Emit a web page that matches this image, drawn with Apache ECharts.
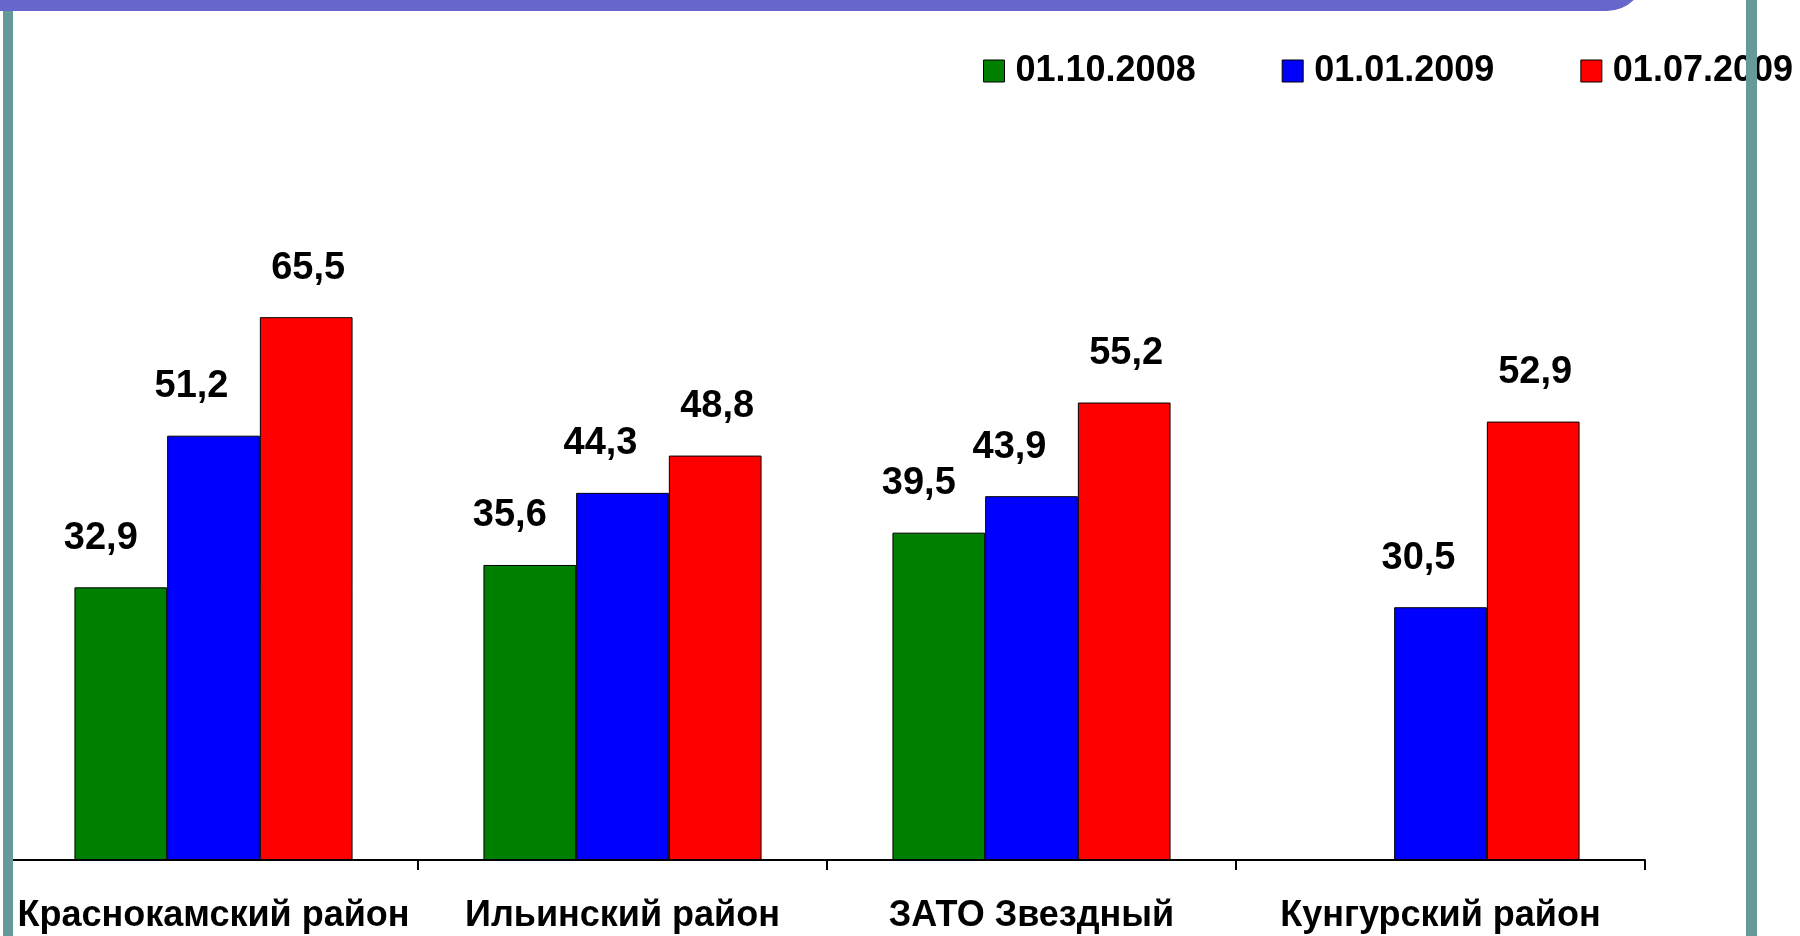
<!DOCTYPE html>
<html>
<head>
<meta charset="utf-8">
<title>chart</title>
<script src="https://cdn.jsdelivr.net/npm/echarts@6/dist/echarts.min.js"></script>
<style>
  html, body { margin: 0; padding: 0; background: #fff; }
  #chart { width: 1800px; height: 936px; }
</style>
</head>
<body>
<div id="chart"></div>
<script>
// данные
const categories = ['Краснокамский район', 'Ильинский район', 'ЗАТО Звездный', 'Кунгурский район']
const seriesNames = ['01.10.2008', '01.01.2009', '01.07.2009']
const values2008_10 = [32.9, 35.6, 39.5, null]
const values2009_01 = [51.2, 44.3, 43.9, 30.5]
const values2009_07 = [65.5, 48.8, 55.2, 52.9]

const colors = ['#008000', '#0000FF', '#FF0000']
const labelShift = [-20, -22, 2] // сдвиг подписей как на слайде
const font = '"Liberation Sans", Arial, sans-serif'

const myEchart = echarts.init(document.getElementById('chart'))

const makeSeries = (name, data, i) => ({
  name: name,
  type: 'bar',
  data: data,
  barGap: '0%',
  barCategoryGap: '32%',
  itemStyle: {
    color: colors[i],
    borderColor: '#000',
    borderWidth: 1
  },
  label: {
    show: true,
    position: 'top',
    distance: 30,
    offset: [labelShift[i], 0],
    fontFamily: font,
    fontWeight: 'bold',
    fontSize: 38,
    color: '#000',
    formatter: (p) => String(p.value).replace('.', ',')
  }
})

const option = {
  backgroundColor: '#fff',
  animation: false,
  legend: {
    left: 978,
    top: 48,
    width: 1200,
    itemWidth: 21,
    itemHeight: 22,
    itemGap: 86,
    icon: 'rect',
    itemStyle: { borderColor: '#000', borderWidth: 1 },
    textStyle: {
      fontFamily: font,
      fontWeight: 'bold',
      fontSize: 36,
      color: '#000',
      padding: [0, 0, 0, 6]
    },
    data: seriesNames
  },
  grid: {
    left: 9,
    right: 155,
    top: 197,
    bottom: 76
  },
  xAxis: {
    type: 'category',
    data: categories,
    axisLine: { lineStyle: { color: '#000', width: 2 } },
    axisTick: { show: true, length: 10, lineStyle: { color: '#000', width: 2 } },
    axisLabel: {
      margin: 38,
      fontFamily: font,
      fontWeight: 'bold',
      fontSize: 36,
      color: '#000',
      interval: 0
    }
  },
  yAxis: {
    type: 'value',
    min: 0,
    max: 80,
    show: false
  },
  series: [
    makeSeries(seriesNames[0], values2008_10, 0),
    makeSeries(seriesNames[1], values2009_01, 1),
    makeSeries(seriesNames[2], values2009_07, 2)
  ],
  graphic: [
    {
      // верхняя полоса слайда
      type: 'rect',
      z: 100,
      shape: { x: 0, y: -40, width: 1645, height: 51, r: [0, 0, 38, 0] },
      style: { fill: '#6666CC' }
    },
    {
      type: 'rect',
      z: 100,
      shape: { x: 3, y: 11, width: 10, height: 925 },
      style: { fill: '#669999' }
    },
    {
      type: 'rect',
      z: 100,
      shape: { x: 1746, y: 0, width: 11, height: 936 },
      style: { fill: '#669999' }
    }
  ]
}

myEchart.setOption(option, { notMerge: true })

window.addEventListener('resize', () => {
  myEchart.resize()
})
</script>
</body>
</html>
